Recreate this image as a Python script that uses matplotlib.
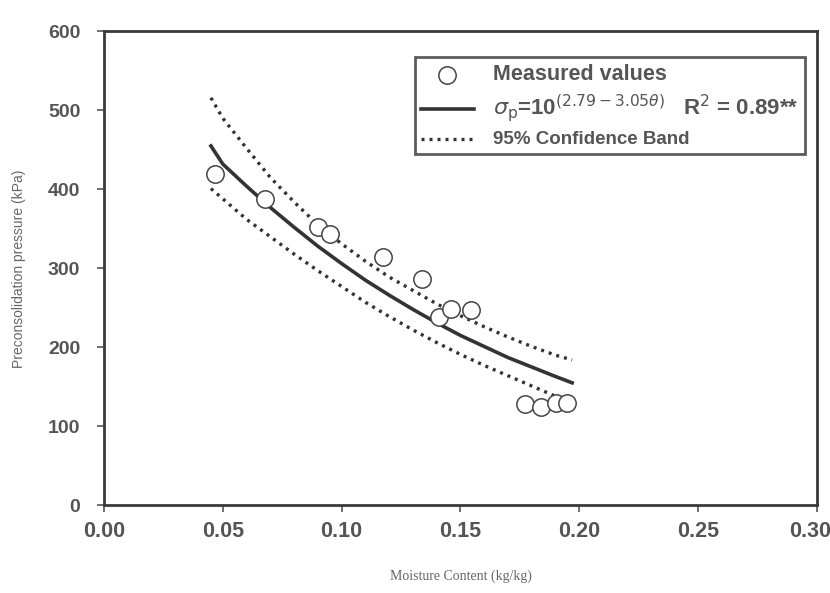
import matplotlib
matplotlib.use("Agg")
import matplotlib.pyplot as plt
import matplotlib.transforms as mtransforms

# Measured points
meas_x = [0.0466, 0.0676, 0.090, 0.095, 0.1176, 0.1336, 0.141, 0.146, 0.1546, 0.177, 0.184, 0.190, 0.1948]
meas_y = [420, 388, 352, 343, 314, 286, 239, 248, 247, 128, 124, 130, 130]

# Fitted curve
fit_x = [0.045, 0.05, 0.06, 0.07, 0.08, 0.09, 0.10, 0.11, 0.12, 0.13, 0.14, 0.15, 0.16, 0.17, 0.18, 0.19, 0.197]
fit_y = [455, 432, 404, 377, 352, 328, 306, 285, 266, 248, 231, 215, 201, 187, 175, 163, 155]

# Confidence band
up_x = [0.045, 0.05, 0.06, 0.07, 0.08, 0.09, 0.10, 0.11, 0.12, 0.13, 0.14, 0.15, 0.16, 0.17, 0.18, 0.19, 0.197]
up_y = [516, 490, 452, 415, 384, 355, 331, 309, 289, 272, 255, 240, 226, 213, 201, 190, 184]
lo_x = [0.045, 0.05, 0.06, 0.07, 0.08, 0.09, 0.10, 0.11, 0.12, 0.13, 0.14, 0.15, 0.16, 0.17, 0.18, 0.19, 0.195]
lo_y = [401, 388, 362, 340, 318, 297, 277, 257, 239, 222, 206, 191, 177, 164, 151, 138, 132]

x_ticks = [0.00, 0.05, 0.10, 0.15, 0.20, 0.25, 0.30]
y_ticks = [0, 100, 200, 300, 400, 500, 600]

plt.rcParams['font.family'] = ['Liberation Sans', 'DejaVu Sans']

fig = plt.figure(figsize=(8.3, 5.93), dpi=100)
ax = fig.add_axes([0.1253, 0.148, 0.859, 0.799])

dark = '#333333'
ax.plot(meas_x, meas_y, linestyle='none', marker='o', markersize=12.5,
        markerfacecolor='white', markeredgecolor='#444444', markeredgewidth=1.1,
        label='Measured values', zorder=4)
ax.plot(fit_x, fit_y, color=dark, lw=2.6,
        label=r'$\sigma_{\rm p}$=10$^{(2.79 - 3.05\theta)}$   R$^2$ = 0.89**', zorder=3)
ax.plot(up_x, up_y, color=dark, lw=2.4, linestyle=(0, (0.9, 1.5)),
        label='95% Confidence Band', zorder=3)
ax.plot(lo_x, lo_y, color=dark, lw=2.4, linestyle=(0, (0.9, 1.5)), zorder=3)

ax.set_xlim(0, 0.30)
ax.set_ylim(0, 600)
ax.set_xticks(x_ticks)
ax.set_xticklabels([f'{v:.2f}' for v in x_ticks])
ax.set_yticks(y_ticks)
ax.set_yticklabels([str(v) for v in y_ticks])

for s in ax.spines.values():
    s.set_color('#3a3a3a')
    s.set_linewidth(2.0)
ax.tick_params(axis='both', direction='out', length=5, width=1.2, color='#555555',
               labelcolor='#555555')
ax.tick_params(axis='x', labelsize=15.5, pad=6)
ax.tick_params(axis='y', labelsize=14, pad=12)
for lab in ax.get_xticklabels() + ax.get_yticklabels():
    lab.set_fontweight('bold')
# keep the last x label inside the canvas
last = ax.get_xticklabels()[-1]
last.set_horizontalalignment('right')
last.set_transform(last.get_transform() + mtransforms.ScaledTranslation(14 / 100, 0, fig.dpi_scale_trans))

ax.set_xlabel('Moisture Content (kg/kg)', family=['Liberation Serif'], fontsize=10,
              color='#666666', labelpad=20)
ax.set_ylabel('Preconsolidation pressure (kPa)', fontsize=10, color='#666666', labelpad=16)

leg = ax.legend(loc='upper right', bbox_to_anchor=(0.983, 0.945), borderaxespad=0.0,
                frameon=True, fancybox=False,
                handlelength=3.8, borderpad=0.45, labelspacing=0.5, handletextpad=1.4,
                edgecolor='#333333')
leg.get_frame().set_linewidth(2.0)
texts = leg.get_texts()
sizes = [15.5, 16, 13.5]
for t, sz in zip(texts, sizes):
    t.set_fontsize(sz)
    t.set_fontweight('bold')
    t.set_color('#555555')

fig.savefig('out.png', dpi=100)
